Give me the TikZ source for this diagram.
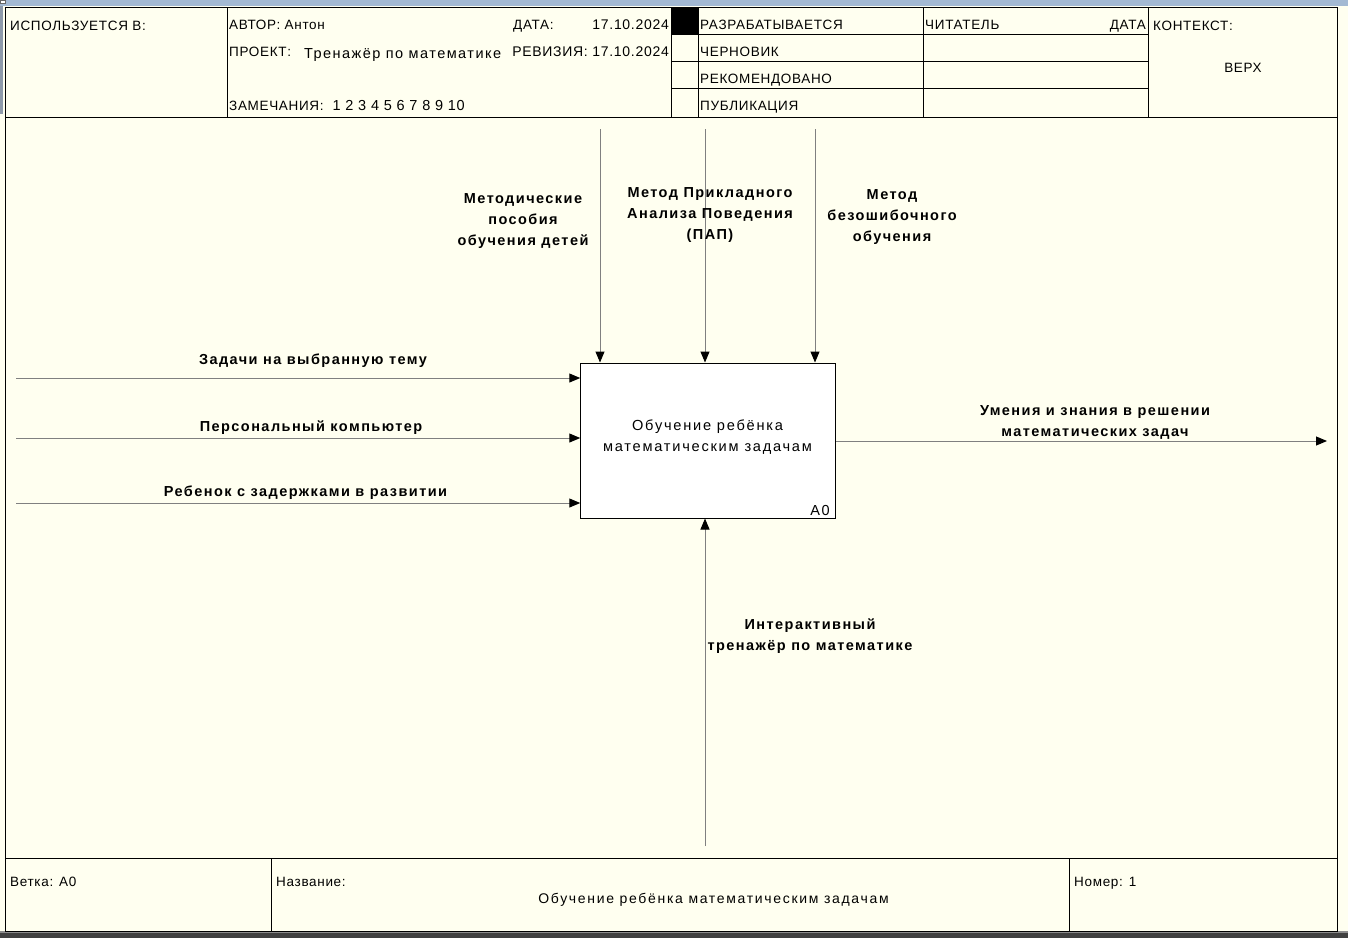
\documentclass[tikz,border=0pt]{standalone}
\usepackage{fontspec}
\setmainfont{Liberation Sans}
\newfontfamily\formfont[LetterSpace=5]{Liberation Sans}
\newfontfamily\arrowfont[LetterSpace=10]{Liberation Sans}
\newfontfamily\boxfont[LetterSpace=12]{Liberation Sans}
\usetikzlibrary{arrows.meta}
\definecolor{paper}{HTML}{FFFFF0}
\definecolor{titlebar}{HTML}{A3B9D3}
\definecolor{sidebar}{HTML}{8E9AAA}
\definecolor{flowgray}{HTML}{808080}
\tikzset{
  rule/.style={line width=1pt, black},
  formtext/.style={anchor=base west, inner sep=0pt, font=\formfont\fontsize{13.5}{16}\selectfont},
  formtextr/.style={formtext, anchor=base east},
  flow/.style={line width=1pt, flowgray, -{Triangle[length=11pt,width=9pt,color=black]}},
  arrowlabel/.style={align=center, inner sep=0pt, anchor=base, font=\arrowfont\bfseries\fontsize{14.5}{21}\selectfont},
  funcbox/.style={draw=black, line width=1pt, fill=white, minimum width=255pt, minimum height=155pt, inner sep=0pt}
}
\begin{document}
\begin{tikzpicture}[x=1pt,y=-1pt]
\useasboundingbox (0,0) rectangle (1348,938);
% window background and edges
\fill[paper] (0,0) rectangle (1348,938);
\fill[titlebar] (0,0) rectangle (1348,6);
\fill[sidebar] (0,6) rectangle (3,114);
\draw[black!60, fill=white, line width=0.6pt] (0.5,0.3) rectangle (5,3.5);
\fill[black!45] (0,931) rectangle (1348,933);
\fill[black!75] (0,933) rectangle (1348,938);

% outer frame
\draw[rule] (5,7) rectangle (1337,931);

% header grid
\draw[rule] (5,117) -- (1337,117);
\draw[rule] (227,7) -- (227,117);
\draw[rule] (671,7) -- (671,117);
\draw[rule] (698,7) -- (698,117);
\draw[rule] (923,7) -- (923,117);
\draw[rule] (1148,7) -- (1148,117);
\draw[rule] (671,34) -- (1148,34);
\draw[rule] (671,61) -- (1148,61);
\draw[rule] (671,88) -- (1148,88);
\fill[black] (671,7) rectangle (698,34);

% header texts
\node[formtext] (used) at (10,30.5) {ИСПОЛЬЗУЕТСЯ В:};
\node[formtext] (author) at (229,29) {АВТОР: Антон};
\node[formtext] (project) at (229,56) {ПРОЕКТ:};
\node[formtext, font=\arrowfont\fontsize{14.5}{16}\selectfont, anchor=base west] (projname) at (304,58) {Тренажёр по математике};
\node[formtext] (notes) at (229,110.5) {ЗАМЕЧАНИЯ:\,\, {\fontsize{14.5}{16}\selectfont 1 2 3 4 5 6 7 8 9 10}};
\node[formtext] (date) at (513,29) {ДАТА:};
\node[formtextr, font=\formfont\fontsize{14}{16}\selectfont] (dateval) at (669,29) {17.10.2024};
\node[formtextr, font=\formfont\fontsize{14}{16}\selectfont] (rev) at (669,56) {РЕВИЗИЯ: 17.10.2024};
\node[formtext] (s1) at (700,29) {РАЗРАБАТЫВАЕТСЯ};
\node[formtext] (s2) at (700,56) {ЧЕРНОВИК};
\node[formtext] (s3) at (700,83) {РЕКОМЕНДОВАНО};
\node[formtext] (s4) at (700,110.5) {ПУБЛИКАЦИЯ};
\node[formtext] (reader) at (925,29) {ЧИТАТЕЛЬ};
\node[formtextr] (rdate) at (1146,29) {ДАТА};
\node[formtext] (context) at (1153,30.5) {КОНТЕКСТ:};
\node[formtext, anchor=base] (top) at (1243,72.5) {ВЕРХ};

% footer grid and texts
\draw[rule] (5,858) -- (1337,858);
\draw[rule] (271,858) -- (271,931);
\draw[rule] (1069,858) -- (1069,931);
\node[formtext] (node) at (10,886.5) {Ветка: A0};
\node[formtext] (title) at (276,886.5) {Название:};
\node[formtext, anchor=base, font=\boxfont\fontsize{14}{16}\selectfont] (titletext) at (713.5,903) {Обучение ребёнка математическим задачам};
\node[formtext] (number) at (1074,886.5) {Номер: 1};

% function block
\node[funcbox] (func) at (708.25,440.5) {};
\node[align=center, inner sep=0pt, anchor=base, font=\boxfont\fontsize{14.6}{21.5}\selectfont] (functext) at (707.5,451.5) {Обучение ребёнка\\математическим задачам};
\node[anchor=base east, inner sep=0pt, font=\boxfont\fontsize{14.5}{16}\selectfont] (funcid) at (830,515.5) {A0};

% controls
\coordinate (ctl1) at (600,129);
\coordinate (ctl2) at (705,129);
\coordinate (ctl3) at (815,129);
\draw[flow] (ctl1) -- (ctl1 |- func.north);
\draw[flow] (ctl2) -- (ctl2 |- func.north);
\draw[flow] (ctl3) -- (ctl3 |- func.north);
\node[arrowlabel] (ctl1lbl) at (523,245) {Методические\\пособия\\обучения детей};
\node[arrowlabel] (ctl2lbl) at (710,239) {Метод Прикладного\\Анализа Поведения\\(ПАП)};
\node[arrowlabel] (ctl3lbl) at (892,241) {Метод\\безошибочного\\обучения};

% inputs
\coordinate (in1) at (16,378);
\coordinate (in2) at (16,438);
\coordinate (in3) at (16,503);
\draw[flow] (in1) -- (in1 -| func.west);
\draw[flow] (in2) -- (in2 -| func.west);
\draw[flow] (in3) -- (in3 -| func.west);
\node[arrowlabel] (in1lbl) at (313,364) {Задачи на выбранную тему};
\node[arrowlabel] (in2lbl) at (311,431.5) {Персональный компьютер};
\node[arrowlabel] (in3lbl) at (305.5,496.5) {Ребенок с задержками в развитии};

% output
\coordinate (out1) at (1327,441);
\draw[flow] (func.east |- out1) -- (out1);
\node[arrowlabel] (out1lbl) at (1095,436) {Умения и знания в решении\\математических задач};

% mechanism
\coordinate (mech1) at (705,846);
\draw[flow] (mech1) -- (mech1 |- func.south);
\node[arrowlabel] (mech1lbl) at (810,650) {Интерактивный\\тренажёр по математике};
\end{tikzpicture}
\end{document}
